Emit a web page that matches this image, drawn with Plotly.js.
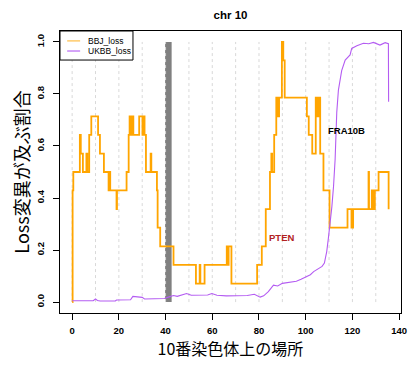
<!DOCTYPE html>
<html>
<head>
<meta charset="utf-8">
<script src="https://cdn.plot.ly/plotly-3.0.1.min.js"></script>
<style>html,body{margin:0;padding:0;background:#fff;}#chart{width:420px;height:370px;}</style>
</head>
<body>
<div id="chart"></div>
<script>
// BBJ_loss: step positions (Mb) and the value from that position on
const bbjPos = [0, 0.2, 0.5, 3.3, 3.7, 4.6, 6.1, 6.5, 7.3, 8.2, 11.1, 11.9, 13.6, 15.6, 15.9, 16.3, 19.0, 19.2,
  23.3, 24.2, 24.6, 24.9, 25.2, 25.5, 25.8, 26.2, 28.7, 30.1, 30.7, 31.0, 31.6, 33.6, 33.9, 36.3, 36.6, 37.7,
  43.4, 53.0, 54.6, 54.9, 56.7, 66.2, 66.6, 67.0, 68.2, 79.2, 81.2, 82.9, 84.7, 85.3, 85.6, 86.5, 87.4, 87.7,
  88.0, 88.3, 88.6, 89.8, 90.4, 91.0, 100.5, 101.3, 102.8, 104.3, 104.7, 105.1, 105.5, 105.9, 106.2, 107.6,
  110.2, 117.9, 119.6, 120.3, 126.9, 127.1, 128.3, 128.6, 129.0, 129.3, 129.6, 131.2, 135.5];
const bbjVal = [0, 0.429, 0.5, 0.643, 0.571, 0.5, 0.571, 0.5, 0.643, 0.714, 0.643, 0.571, 0.5, 0.429, 0.5, 0.429, 0.357, 0.429,
  0.5, 0.643, 0.714, 0.643, 0.714, 0.643, 0.714, 0.643, 0.714, 0.643, 0.714, 0.643, 0.5, 0.571, 0.5, 0.429, 0.286, 0.214,
  0.143, 0.071, 0.143, 0.071, 0.143, 0.214, 0.143, 0.214, 0.071, 0.143, 0.214, 0.357, 0.5, 0.571, 0.5, 0.643, 0.786, 0.714,
  0.786, 0.714, 0.786, 1.0, 0.929, 0.786, 0.714, 0.643, 0.571, 0.786, 0.714, 0.786, 0.714, 0.786, 0.571, 0.429,
  0.286, 0.357, 0.286, 0.357, 0.5, 0.357, 0.429, 0.357, 0.429, 0.357, 0.429, 0.5, 0.357];

// UKBB_loss
const ukbbPos = [0, 9.0, 10.0, 10.8, 12, 18.5, 19, 25, 26, 28, 30, 31, 34, 37, 39.5, 41.5, 43.4, 45, 47, 49, 51, 56, 58,
  59.8, 62, 66, 75, 78, 80.5, 82, 84, 86.2, 88, 90, 93, 96, 98, 100.5, 102, 103.4, 105, 107, 108, 109, 109.7, 110.4,
  111.2, 111.9, 112.6, 113.3, 114, 115.4, 116.9, 119, 119.7, 121.9, 124.7, 127, 129, 131.8, 134, 135.4, 135.5];
const ukbbVal = [0.005, 0.005, 0.012, 0.006, 0.004, 0.004, 0.008, 0.009, 0.022, 0.02, 0.018, 0.012, 0.012, 0.013, 0.014,
  0.02, 0.025, 0.022, 0.028, 0.033, 0.026, 0.026, 0.027, 0.033, 0.026, 0.024, 0.025, 0.03, 0.019, 0.024, 0.04, 0.065,
  0.062, 0.072, 0.075, 0.08, 0.088, 0.097, 0.105, 0.117, 0.126, 0.137, 0.15, 0.194, 0.245, 0.3, 0.367, 0.443, 0.55,
  0.73, 0.815, 0.89, 0.93, 0.95, 0.975, 0.985, 0.995, 0.993, 0.998, 0.988, 0.997, 0.993, 0.77];

// centromere band (Mb)
const centroStart = 39.8;
const centroEnd = 42.6;
const centroHeight = 1.0;

// vertical guide positions and tick labels
const guideX = [0, 10, 20, 30, 40, 50, 60, 70, 80, 90, 100, 110, 120, 130];
const xTicks = [0, 20, 40, 60, 80, 100, 120, 140];
const yTicks = [0, 0.2, 0.4, 0.6, 0.8, 1.0];
const yTickText = ['0.0', '0.2', '0.4', '0.6', '0.8', '1.0'];

// legend entries
const seriesNames = ['BBJ_loss', 'UKBB_loss'];
const seriesColors = ['#FFA500', '#B45CF2'];
const legendColors = ['rgba(255,165,0,0.55)', 'rgba(180,92,242,0.7)'];

const gx = [], gy = [];
guideX.forEach(g => { gx.push(g, g, null); gy.push(0, 1, null); });

const FONT = 'Liberation Sans, Arial, sans-serif';
const CJK = 'Noto Sans CJK JP, sans-serif';

const traces = [
  {type: 'scatter', mode: 'lines', x: gx, y: gy, showlegend: false, hoverinfo: 'skip',
   line: {color: '#d9d9d9', width: 1, dash: 'dot'}},
  {type: 'bar', x: [(centroStart + centroEnd) / 2], y: [centroHeight], base: [0], width: [centroEnd - centroStart],
   marker: {color: '#808080', line: {width: 0}}, showlegend: false, hoverinfo: 'skip'},
  {type: 'scatter', mode: 'lines', name: seriesNames[0], x: bbjPos, y: bbjVal, showlegend: false,
   line: {color: seriesColors[0], width: 1.8, shape: 'hv'}},
  {type: 'scatter', mode: 'lines', name: seriesNames[1], x: ukbbPos, y: ukbbVal, showlegend: false,
   line: {color: seriesColors[1], width: 1.1}}
];

// compact legend box (R style) in paper coordinates
const legBox = {x0: 0, x1: 0.214, y0: 0.897, y1: 1};
const legRowY = [0.965, 0.929];
const shapes = [
  {type: 'rect', xref: 'paper', yref: 'paper', x0: legBox.x0, x1: legBox.x1, y0: legBox.y0, y1: legBox.y1,
   line: {color: '#000', width: 1}, fillcolor: '#fff', layer: 'above'}
];
const annotations = [
  {x: 89.8, y: 0.247, xref: 'x', yref: 'y', text: 'PTEN', showarrow: false,
   font: {family: FONT, size: 9.5, weight: 'bold', color: '#B22222'}},
  {x: 117.3, y: 0.658, xref: 'x', yref: 'y', text: 'FRA10B', showarrow: false,
   font: {family: FONT, size: 9.5, weight: 'bold', color: '#000'}}
];
seriesNames.forEach((n, i) => {
  shapes.push({type: 'line', xref: 'paper', yref: 'paper', x0: 0.021, x1: 0.059, y0: legRowY[i], y1: legRowY[i],
               line: {color: legendColors[i], width: 1.6}, layer: 'above'});
  annotations.push({xref: 'paper', yref: 'paper', x: 0.076, y: legRowY[i], xanchor: 'left', yanchor: 'middle',
                    text: n, showarrow: false, font: {family: FONT, size: 8.5, color: '#000'}});
});

const layout = {
  width: 420, height: 370,
  margin: {l: 60, r: 19, t: 31, b: 57},
  paper_bgcolor: '#fff', plot_bgcolor: '#fff',
  showlegend: false,
  font: {family: FONT, color: '#000'},
  title: {text: 'chr 10', x: 0.5, xref: 'paper', y: 0.959, yanchor: 'middle',
          font: {family: FONT, size: 11.5, weight: 'bold', color: '#000'}},
  xaxis: {range: [-5.2, 140.8], showgrid: false, zeroline: false, showline: true, mirror: true,
          linecolor: '#000', linewidth: 1, ticks: 'outside', ticklen: 6, tickcolor: '#000',
          tickvals: xTicks, ticktext: xTicks.map(String), ticklabelstandoff: 3,
          tickfont: {family: FONT, size: 9.5, weight: 'bold', color: '#000'},
          title: {text: '10番染色体上の場所', font: {family: CJK, size: 16, color: '#000'}, standoff: 8}},
  yaxis: {range: [-0.042, 1.042], showgrid: false, zeroline: false, showline: true, mirror: true,
          linecolor: '#000', linewidth: 1, ticks: 'outside', ticklen: 6, tickcolor: '#000',
          tickvals: yTicks, ticktext: yTickText, tickangle: -90, ticklabelstandoff: 5,
          tickfont: {family: FONT, size: 9.5, weight: 'bold', color: '#000'},
          title: {text: 'Loss変異が及ぶ割合', font: {family: CJK, size: 18, color: '#000'}, standoff: 0}},
  shapes: shapes,
  annotations: annotations
};

Plotly.newPlot('chart', traces, layout, {displayModeBar: false, staticPlot: true});
</script>
</body>
</html>
